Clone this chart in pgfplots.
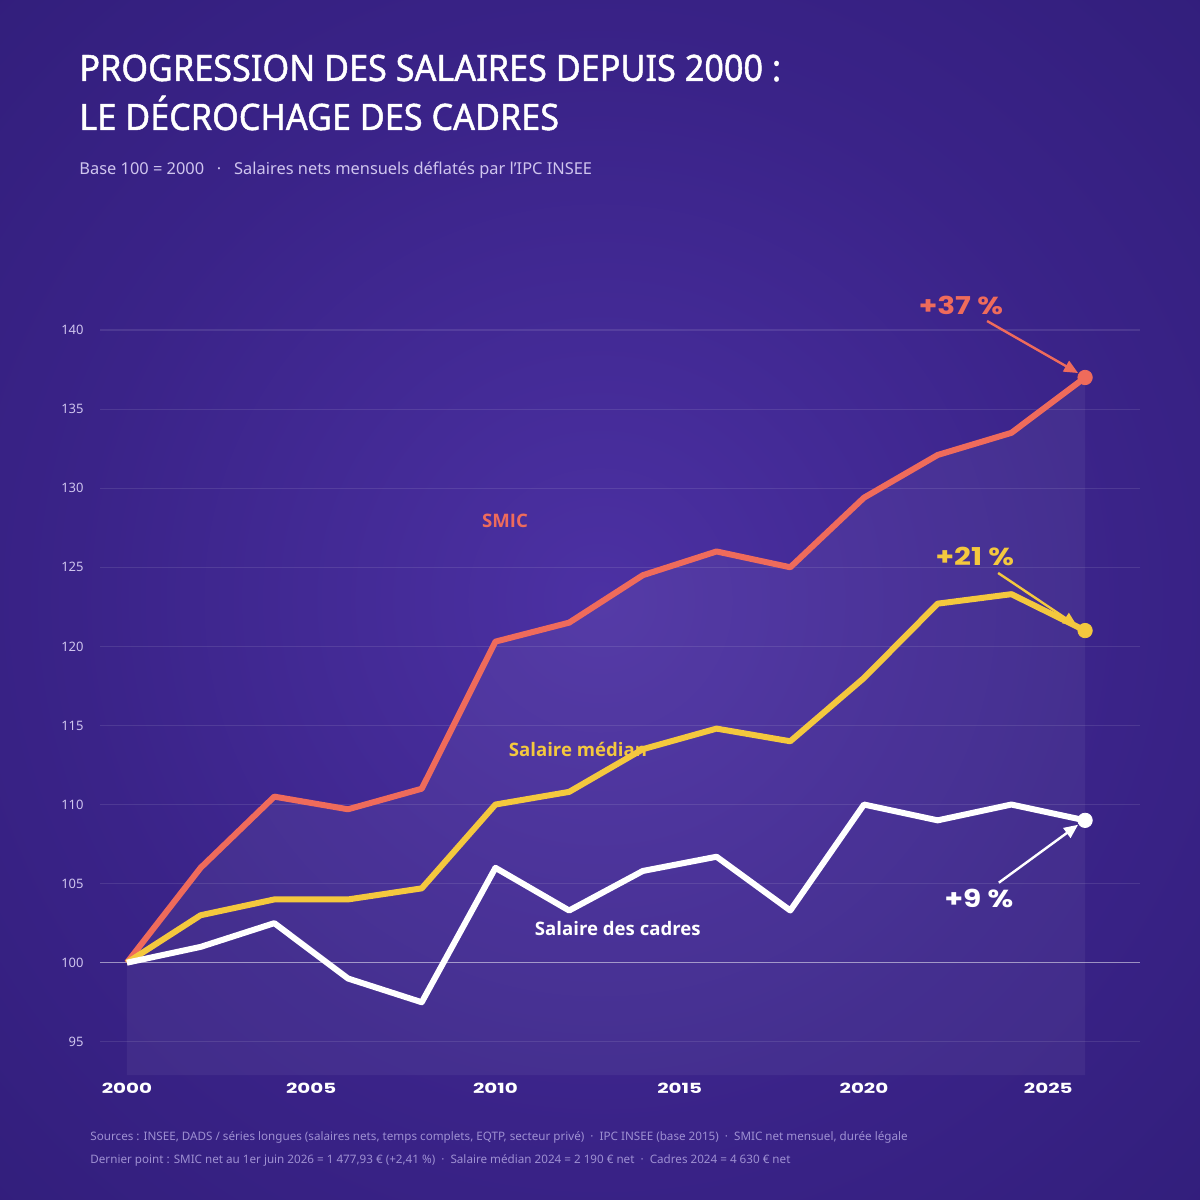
\documentclass[border=0pt]{standalone}
\usepackage{fontspec}
\setmainfont{Noto Sans}
\newfontfamily\titlefont[FakeStretch=0.94, FakeBold=1.3]{Noto Sans}
\newfontfamily\labfont{Open Sans}
\newfontfamily\widefont[FakeStretch=1.42]{Poppins}
\newfontfamily\annfont[FakeStretch=1.2]{Poppins}
\usepackage{pgfplots}
\usepackage{pgfplotstable}
\pgfplotsset{compat=1.18}
\usetikzlibrary{arrows.meta}

\definecolor{coral}{HTML}{EF6B5B}
\definecolor{gold}{HTML}{F4C83E}
\definecolor{lav}{HTML}{CFC5EE}
\definecolor{foot}{HTML}{9E90D2}
\definecolor{bgA}{HTML}{4C31A3}
\definecolor{bgB}{HTML}{3A2388}
\definecolor{bgC}{HTML}{2D1B74}
\definecolor{bgD}{HTML}{22145A}

\pgfdeclareradialshading{bgshade}{\pgfpoint{0bp}{0bp}}{color(0bp)=(bgA); color(22bp)=(bgB); color(45bp)=(bgC); color(72bp)=(bgD)}

\pgfplotstableread{
year smic median cadres
2000 100.0 100.0 100.0
2002 106.0 103.0 101.0
2004 110.5 104.0 102.5
2006 109.7 104.0 99.0
2008 111.0 104.7 97.5
2010 120.3 110.0 106.0
2012 121.5 110.8 103.3
2014 124.5 113.5 105.8
2016 126.0 114.8 106.7
2018 125.0 114.0 103.3
2020 129.4 118.0 110.0
2022 132.1 122.7 109.0
2024 133.5 123.3 110.0
2026 137.0 121.0 109.0
}\data

\begin{document}
\begin{tikzpicture}
\useasboundingbox (0,0) rectangle (600pt,600pt);
\shade[shading=bgshade] (0,0) rectangle (600pt,600pt);

\node[anchor=base west, inner sep=0pt, text=white, font=\titlefont\fontsize{18.2}{20}\selectfont] at (39.5pt,559.5pt) {PROGRESSION DES SALAIRES DEPUIS 2000 :};
\node[anchor=base west, inner sep=0pt, text=white, font=\titlefont\fontsize{18.2}{20}\selectfont] at (39.5pt,535pt) {LE DÉCROCHAGE DES CADRES};
\node[anchor=base west, inner sep=0pt, text=lav, font=\fontsize{8.2}{10}\selectfont] at (39.5pt,512.85pt) {Base 100 = 2000 \ \ ·\ \ \ Salaires nets mensuels déflatés par l'IPC INSEE};

\node[anchor=base west, inner sep=0pt, text=foot, font=\fontsize{5.83}{7}\selectfont] at (45pt,29.65pt) {Sources : INSEE, DADS / séries longues (salaires nets, temps complets, EQTP, secteur privé) \ · \ IPC INSEE (base 2015) \ · \ SMIC net mensuel, durée légale};
\node[anchor=base west, inner sep=0pt, text=foot, font=\fontsize{5.83}{7}\selectfont] at (45pt,18.3pt) {Dernier point : SMIC net au 1er juin 2026 = 1 477,93 € (+2,41 \%) \ · \ Salaire médian 2024 = 2 190 € net \ · \ Cadres 2024 = 4 630 € net};

\begin{axis}[
  at={(50pt,62.5pt)}, anchor=south west,
  scale only axis, width=520pt, height=388.3pt,
  xmin=1999.27, xmax=2027.49, ymin=92.9, ymax=142,
  clip=false,
  axis line style={draw=none},
  major tick length=0pt,
  xtick={2000,2005,...,2025},
  ytick={95,100,...,140},
  ymajorgrids,
  major grid style={white, opacity=0.1, line width=0.6pt},
  /pgf/number format/1000 sep={},
  /pgf/number format/assume math mode=true,
  yticklabel style={anchor=east, inner sep=0pt, xshift=-8pt, text=lav, font=\fontsize{6.5}{8}\selectfont},
  xticklabel style={anchor=north, inner sep=0pt, yshift=-4pt, text=white, font=\widefont\bfseries\fontsize{7}{8}\selectfont},
]
\addplot[draw=none, fill=white, fill opacity=0.05] table[x=year,y=smic]{\data} \closedcycle;
\draw[white, opacity=0.45, line width=0.6pt] (axis cs:1999.27,100) -- (axis cs:2027.49,100);

\addplot[coral, line width=3pt, line join=round] table[x=year,y=smic]{\data};
\addplot[gold, line width=3pt, line join=round] table[x=year,y=median]{\data};
\addplot[white, line width=3pt, line join=round] table[x=year,y=cadres]{\data};

\addplot[only marks, mark=*, mark size=3.6pt, coral] coordinates {(2026,137.0)};
\addplot[only marks, mark=*, mark size=3.6pt, gold] coordinates {(2026,121.0)};
\addplot[only marks, mark=*, mark size=3.6pt, white] coordinates {(2026,109.0)};

\draw[coral, line width=1.2pt, -{Triangle[length=7pt,width=6pt]}] (axis cs:2023.34,140.57) -- (axis cs:2025.81,137.28);
\draw[gold, line width=1.2pt, -{Triangle[length=7pt,width=6pt]}] (axis cs:2023.64,124.64) -- (axis cs:2025.78,121.30);
\draw[white, line width=1.2pt, -{Triangle[length=7pt,width=6pt]}] (axis cs:2023.66,105.06) -- (axis cs:2025.81,108.72);

\node[text=coral, font=\annfont\bfseries\fontsize{12.3}{14}\selectfont] at (axis cs:2022.63,141.58) {+37 \%};
\node[text=gold, font=\annfont\bfseries\fontsize{12.3}{14}\selectfont] at (axis cs:2023.01,125.66) {+21 \%};
\node[text=white, font=\annfont\bfseries\fontsize{12.3}{14}\selectfont] at (axis cs:2023.12,104.04) {+9 \%};

\node[text=coral, font=\labfont\bfseries\fontsize{9.3}{11}\selectfont] at (axis cs:2010.26,127.93) {SMIC};
\node[text=gold, font=\labfont\bfseries\fontsize{9.3}{11}\selectfont] at (axis cs:2012.24,113.46) {Salaire médian};
\node[text=white, font=\labfont\bfseries\fontsize{9.3}{11}\selectfont] at (axis cs:2013.32,102.15) {Salaire des cadres};
\end{axis}
\end{tikzpicture}
\end{document}
